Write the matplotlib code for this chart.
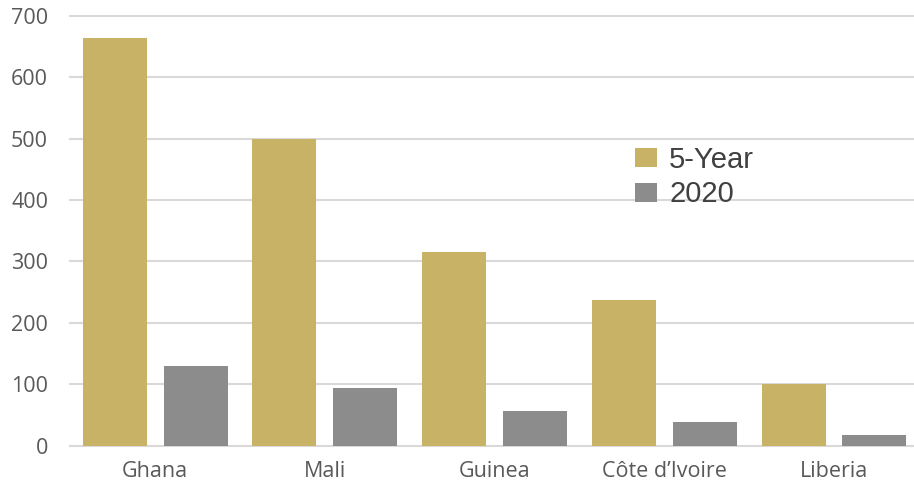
import matplotlib
matplotlib.use("Agg")
import matplotlib.pyplot as plt
import numpy as np

countries = ["Ghana", "Mali", "Guinea", "Côte d’Ivoire", "Liberia"]
five_year = [663, 500, 316, 237, 100]
y2020 = [130, 94, 56, 38, 18]
series_labels = ["5-Year", "2020"]
yticks = [0, 100, 200, 300, 400, 500, 600, 700]

gold = "#C8B266"
gray = "#8C8C8C"
grid_c = "#D9D9D9"
text_c = "#595959"

fig = plt.figure(figsize=(9.14, 4.91), dpi=100)
ax = fig.add_axes([0.0769, 0.0923, 0.9284, 0.8758])

x = np.arange(len(countries))
w = 0.377
off = 0.238
b1 = ax.bar(x - off, five_year, w, color=gold, zorder=3, label=series_labels[0])
b2 = ax.bar(x + off, y2020, w, color=gray, zorder=3, label=series_labels[1])

ax.set_xlim(-0.5, len(countries) - 0.5)
ax.set_ylim(0, 700)
ax.set_yticks(yticks)
ax.set_yticklabels([str(t) for t in yticks])
for t in yticks:
    ax.axhline(t, color=grid_c, lw=1.5, zorder=1, clip_on=False)

ax.set_xticks(x)
ax.set_xticklabels(countries)
for s in ax.spines.values():
    s.set_visible(False)
ax.tick_params(axis="both", length=0, colors=text_c)
ax.tick_params(axis="y", pad=16)
ax.tick_params(axis="x", pad=11)
for lab in ax.get_yticklabels() + ax.get_xticklabels():
    lab.set_fontfamily("Open Sans")
    lab.set_fontsize(15.5)
    lab.set_color(text_c)

leg = fig.legend(handles=[b1, b2], labels=series_labels,
                 loc="upper left", bbox_to_anchor=(635 / 914, 1 - 146 / 491),
                 frameon=False, borderpad=0, borderaxespad=0,
                 handlelength=0.75, handleheight=0.62, handletextpad=0.42,
                 labelspacing=0.22,
                 prop={"family": "Liberation Sans", "size": 21})
for t in leg.get_texts():
    t.set_color("#404040")

fig.savefig("out.png", dpi=100)
